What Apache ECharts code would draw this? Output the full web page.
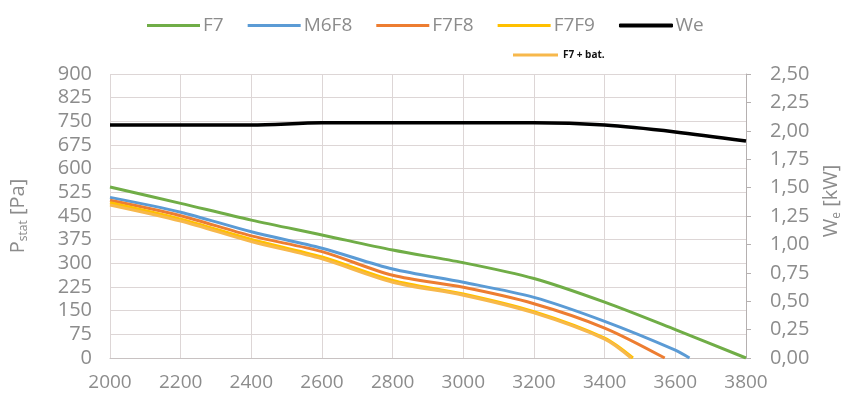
<!DOCTYPE html>
<html><head><meta charset="utf-8">
<script src="https://cdn.jsdelivr.net/npm/echarts@6/dist/echarts.min.js"></script>
<style>html,body{margin:0;padding:0;background:#fff}#c{width:851px;height:397px}</style>
</head><body><div id="c"></div>
<script>
const rpm = [2000, 2200, 2400, 2600, 2800, 3000, 3200, 3400, 3600, 3800];
const f7 = [542, 490, 437, 390, 342, 302, 252, 177, 90, 0];
const m6f8X = [2000, 2200, 2400, 2600, 2800, 3000, 3200, 3400, 3600, 3640];
const m6f8 = [509, 462, 400, 348, 282, 240, 192, 116, 25, 0];
const f7f8X = [2000, 2200, 2400, 2600, 2800, 3000, 3200, 3400, 3570];
const f7f8 = [500, 451, 387, 337, 262, 224, 172, 95, 0];
const f7f9X = [2000, 2200, 2400, 2600, 2800, 3000, 3200, 3400, 3480];
const f7f9 = [492, 440, 376, 320, 246, 203, 147, 63, 0];
const batX = [2000, 2200, 2400, 2600, 2800, 3000, 3200, 3400, 3475];
const bat = [485, 434, 369, 314, 240, 199, 143, 60, 0];
const we = [2.05, 2.05, 2.05, 2.07, 2.07, 2.07, 2.07, 2.05, 1.99, 1.91];
const names = ['F7', 'M6F8', 'F7F8', 'F7F9', 'We', 'F7 + bat.'];
const pLabels = [0, 75, 150, 225, 300, 375, 450, 525, 600, 675, 750, 825, 900];

const pair = (xs, ys) => xs.map((x, i) => [x, ys[i]]);
const FONT = '"Open Sans", sans-serif';
const GREY = '#8c8c8c';
const chart = echarts.init(document.getElementById('c'), null, {renderer: 'canvas'});
const lineS = (name, data, color, w, yi) => ({
  name, type: 'line', data, yAxisIndex: yi || 0, smooth: 0.3, symbol: 'none',
  lineStyle: {color, width: w}, itemStyle: {color}, z: name === 'We' ? 5 : 3
});
chart.setOption({
  animation: false,
  textStyle: {fontFamily: FONT},
  grid: {left: 101, right: 103, top: 74, bottom: 39},
  legend: [{
    data: names.slice(0, 4).concat([{name: 'We', itemStyle: {borderColor: '#000', borderWidth: 1}}]),
    icon: 'rect', left: 142, top: 11, itemWidth: 53, itemHeight: 3, itemGap: 24,
    textStyle: {fontSize: 19, color: GREY, fontFamily: FONT, padding: [0, 0, 0, -2]}
  }, {
    data: [names[5]], icon: 'rect', left: 508, top: 45, itemWidth: 45, itemHeight: 3,
    textStyle: {fontSize: 10, color: '#111', fontWeight: 'bold', fontFamily: FONT}
  }],
  xAxis: {
    type: 'value', min: 2000, max: 3800, interval: 200,
    axisLine: {show: true, lineStyle: {color: '#c8c2c2', width: 1}},
    axisTick: {show: false},
    splitLine: {show: true, lineStyle: {color: '#ddd6d6', width: 1}},
    axisLabel: {color: GREY, fontSize: 19, margin: 15, fontFamily: FONT, formatter: v => String(v)}
  },
  yAxis: [{
    type: 'value', min: 0, max: 900, interval: 75,
    name: '{a|P}{b|stat}{a| [Pa]}', nameLocation: 'middle', nameGap: 80, nameRotate: 90,
    nameTextStyle: {rich: {
      a: {fontSize: 20, color: GREY, fontFamily: FONT, lineHeight: 24},
      b: {fontSize: 12, color: GREY, fontFamily: FONT, lineHeight: 24, verticalAlign: 'bottom', padding: [10, 0, 0, 0]}
    }},
    axisLine: {show: false}, axisTick: {show: false},
    splitLine: {show: true, lineStyle: {color: '#ddd6d6', width: 1}},
    axisLabel: {color: GREY, fontSize: 20, margin: 18, fontFamily: FONT,
      formatter: v => pLabels.includes(v) ? String(v) : ''}
  }, {
    type: 'value', min: 0, max: 2.5, interval: 0.25, position: 'right',
    name: '{a|W}{b|e}{a| [kW]}', nameLocation: 'middle', nameGap: 73, nameRotate: 90,
    nameTextStyle: {padding: [0, 0, 0, 30], rich: {
      a: {fontSize: 20, color: GREY, fontFamily: FONT, lineHeight: 24},
      b: {fontSize: 12, color: GREY, fontFamily: FONT, lineHeight: 24, verticalAlign: 'bottom', padding: [10, 0, 0, 0]}
    }},
    axisLine: {show: true, lineStyle: {color: '#b5b0b0', width: 1}},
    axisTick: {show: true, inside: false, length: 5, lineStyle: {color: '#b5b0b0'}},
    splitLine: {show: false},
    axisLabel: {color: GREY, fontSize: 20, margin: 24, fontFamily: FONT,
      formatter: v => v.toFixed(2).replace('.', ',')}
  }],
  series: [
    lineS('F7', pair(rpm, f7), '#70AD47', 3),
    lineS('M6F8', pair(m6f8X, m6f8), '#5B9BD5', 3),
    lineS('F7F8', pair(f7f8X, f7f8), '#ED7D31', 3),
    lineS('F7F9', pair(f7f9X, f7f9), '#FFC000', 3),
    lineS('We', pair(rpm, we), '#000000', 3.5, 1),
    lineS('F7 + bat.', pair(batX, bat), '#F7B84B', 3)
  ]
});
</script></body></html>
